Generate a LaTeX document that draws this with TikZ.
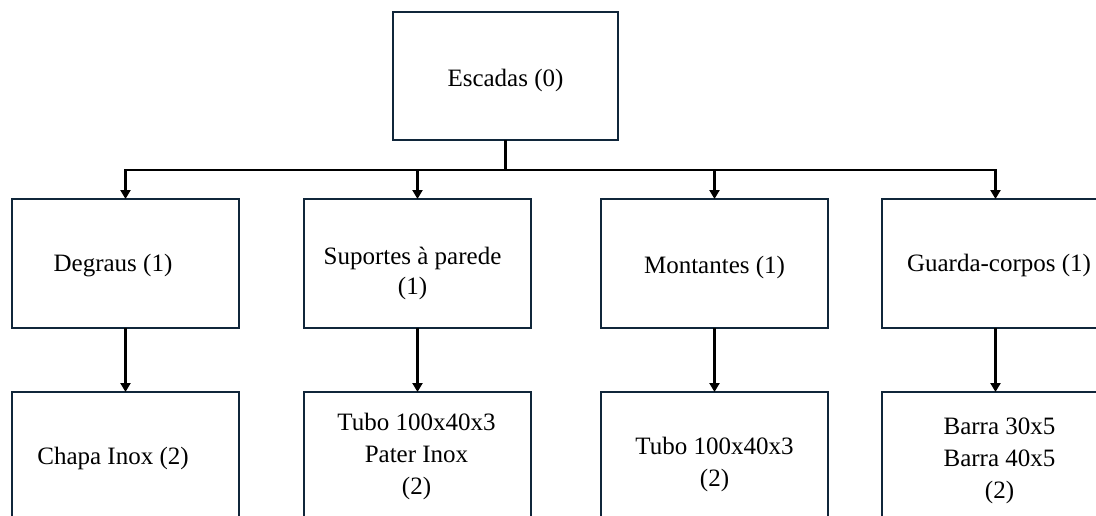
\documentclass[tikz,border=0pt]{standalone}
\usepackage{fontspec}
\setmainfont{Liberation Serif}
\usetikzlibrary{arrows.meta}
\definecolor{boxline}{HTML}{10263A}
\begin{document}
\begin{tikzpicture}[x=1pt,y=-1pt,
  box/.style={draw=boxline, line width=2.2pt, fill=white,
    minimum width=227pt, minimum height=129pt, inner sep=0pt, outer sep=0pt},
  lbl/.style={inner sep=0pt, align=center, font=\fontsize{25}{30}\selectfont},
  lbltwo/.style={lbl, font=\fontsize{25}{32}\selectfont},
  link/.style={line width=2.4pt, black},
  arr/.style={link, -{Triangle[length=9pt,width=10pt]}},
]
\useasboundingbox (0,0) rectangle (1096,515);

% level 0
\node[box, minimum width=225pt, minimum height=128pt] (top) at (505.5,76) {};
\node[lbl] (ttop) at ([yshift=-4pt]top.center) {Escadas (0)};

% level 1
\node[box] (b1) at (125.5,263.5) {};
\node[box] (b2) at (417.5,263.5) {};
\node[box] (b3) at (714.5,263.5) {};
\node[box] (b4) at (995.5,263.5) {};
\node[lbl] (tb1) at ([xshift=-12.5pt,yshift=-2.5pt]b1.center) {Degraus (1)};
\node[lbl] (tb2) at ([xshift=-5pt,yshift=-10pt]b2.center) {Suportes à parede\\(1)};
\node[lbl] (tb3) at ([yshift=-4pt]b3.center) {Montantes (1)};
\node[lbl] (tb4) at ([xshift=3.5pt,yshift=-1.5pt]b4.center) {Guarda-corpos (1)};

% level 2
\node[box, minimum height=128pt] (c1) at (125.5,456) {};
\node[box, minimum height=128pt] (c2) at (417.5,456) {};
\node[box, minimum height=128pt] (c3) at (714.5,456) {};
\node[box, minimum height=128pt] (c4) at (995.5,456) {};
\node[lbltwo] (tc1) at ([xshift=-12.5pt,yshift=-2pt]c1.center) {Chapa Inox (2)};
\node[lbltwo] (tc2) at ([xshift=-1pt]c2.center) {Tubo 100x40x3\\Pater Inox\\(2)};
\node[lbltwo] (tc3) at ([yshift=-8pt]c3.center) {Tubo 100x40x3\\(2)};
\node[lbltwo] (tc4) at ([xshift=4pt,yshift=-5pt]c4.center) {Barra 30x5\\Barra 40x5\\(2)};

% connectors
\coordinate (bus) at (505.5,170);
\draw[link] (top.south) -- (bus);
\foreach \n in {b1,b2,b3,b4} {
  \draw[arr] (bus) -| (\n.north);
}
\draw[arr] (b1.south) -- (c1.north);
\draw[arr] (b2.south) -- (c2.north);
\draw[arr] (b3.south) -- (c3.north);
\draw[arr] (b4.south) -- (c4.north);
\end{tikzpicture}
\end{document}
